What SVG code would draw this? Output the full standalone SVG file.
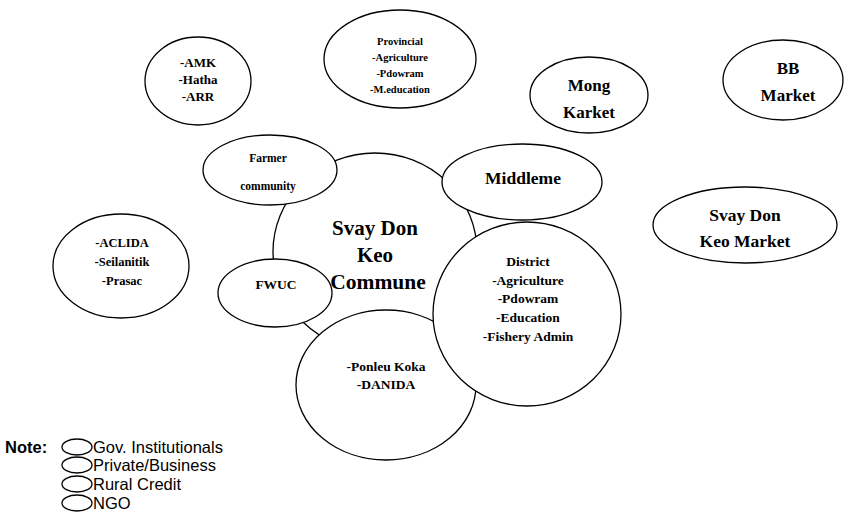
<svg xmlns="http://www.w3.org/2000/svg" width="850" height="524" viewBox="0 0 850 524">
<style>
.n{fill:#fff;stroke:#000;stroke-width:1.3}
.t{font-family:"Liberation Serif","Times New Roman",serif;font-weight:bold;text-anchor:middle;fill:#000}
.s{font-family:"Liberation Sans",Arial,sans-serif;fill:#000;font-size:16.5px}
</style>
<rect width="850" height="524" fill="#fff"/>
<g id="connectors"></g>
<g id="commune"><ellipse class="n" cx="375" cy="252" rx="102" ry="99"/>
<text class="t" font-size="21" x="375" y="235">Svay Don</text><text class="t" font-size="21" x="375" y="262">Keo</text><text class="t" font-size="21.5" x="378" y="289">Commune</text></g>
<g id="amk"><ellipse class="n" cx="198" cy="81" rx="53" ry="44"/>
<text class="t" font-size="13" x="198" y="67">-AMK</text><text class="t" font-size="13" x="198" y="84">-Hatha</text><text class="t" font-size="13" x="198" y="101">-ARR</text></g>
<g id="provincial"><ellipse class="n" cx="400" cy="59" rx="76" ry="49"/>
<text class="t" font-size="10.5" x="400" y="45">Provincial</text><text class="t" font-size="10.5" x="400" y="61">-Agriculture</text><text class="t" font-size="10.5" x="400" y="77">-Pdowram</text><text class="t" font-size="10.5" x="400" y="93">-M.education</text></g>
<g id="mong"><ellipse class="n" cx="589" cy="95" rx="59" ry="38"/>
<text class="t" font-size="17" x="589" y="91">Mong</text><text class="t" font-size="17" x="589" y="118">Karket</text></g>
<g id="bb"><ellipse class="n" cx="783" cy="80" rx="60" ry="40"/>
<text class="t" font-size="17" x="788" y="74">BB</text><text class="t" font-size="17" x="788" y="101">Market</text></g>
<g id="farmer"><ellipse class="n" cx="270" cy="170" rx="67" ry="35"/>
<text class="t" font-size="11.5" x="268" y="162">Farmer</text><text class="t" font-size="11.5" x="268" y="190">community</text></g>
<g id="middleme"><ellipse class="n" cx="522" cy="182" rx="80" ry="38"/>
<text class="t" font-size="17.5" x="523" y="184">Middleme</text></g>
<g id="sdkmarket"><ellipse class="n" cx="745" cy="225" rx="92" ry="38"/>
<text class="t" font-size="17.5" x="745" y="221">Svay Don</text><text class="t" font-size="17.5" x="745" y="247">Keo Market</text></g>
<g id="aclida"><ellipse class="n" cx="121" cy="266" rx="68" ry="52"/>
<text class="t" font-size="12.5" x="122" y="247">-ACLIDA</text><text class="t" font-size="12.5" x="122" y="266">-Seilanitik</text><text class="t" font-size="12.5" x="122" y="285">-Prasac</text></g>
<g id="fwuc"><ellipse class="n" cx="275" cy="293" rx="57" ry="34"/>
<text class="t" font-size="13.5" x="276" y="289">FWUC</text></g>
<g id="ponleu"><ellipse class="n" cx="386" cy="385" rx="90" ry="75"/>
<text class="t" font-size="13.5" x="386" y="371">-Ponleu Koka</text><text class="t" font-size="13.5" x="386" y="389">-DANIDA</text></g>
<g id="district"><ellipse class="n" cx="527" cy="314" rx="94" ry="92"/>
<text class="t" font-size="13.5" x="528" y="266">District</text><text class="t" font-size="13.5" x="528" y="285">-Agriculture</text><text class="t" font-size="13.5" x="528" y="303">-Pdowram</text><text class="t" font-size="13.5" x="528" y="322">-Education</text><text class="t" font-size="13.5" x="528" y="341">-Fishery Admin</text></g>
<g id="legend">
<text class="s" x="5" y="453" font-weight="bold" font-size="17">Note:</text>
<ellipse class="n" cx="77" cy="447" rx="15" ry="8"/>
<ellipse class="n" cx="77" cy="465" rx="15" ry="8"/>
<ellipse class="n" cx="77" cy="484" rx="15" ry="8"/>
<ellipse class="n" cx="77" cy="503" rx="15" ry="8"/>
<text class="s" x="93" y="453">Gov. Institutionals</text>
<text class="s" x="93" y="471">Private/Business</text>
<text class="s" x="93" y="490">Rural Credit</text>
<text class="s" x="93" y="509">NGO</text>
</g>
</svg>
